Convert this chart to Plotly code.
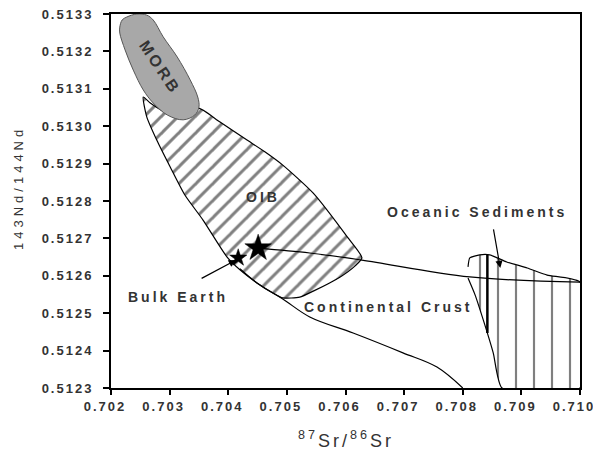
import plotly.graph_objects as go

# ---------------- data (data units) ----------------
x_ticks = [0.702, 0.703, 0.704, 0.705, 0.706, 0.707, 0.708, 0.709, 0.710]
x_tick_labels = ["0.702", "0.703", "0.704", "0.705", "0.706", "0.707", "0.708", "0.709", "0.710"]
y_ticks = [0.5123, 0.5124, 0.5125, 0.5126, 0.5127, 0.5128, 0.5129, 0.5130, 0.5131, 0.5132, 0.5133]
y_tick_labels = ["0.5123", "0.5124", "0.5125", "0.5126", "0.5127", "0.5128",
                 "0.5129", "0.5130", "0.5131", "0.5132", "0.5133"]

morb_sr = [0.70244, 0.70261, 0.70272, 0.70289, 0.70313, 0.70335, 0.70348, 0.70350, 0.70343,
           0.70323, 0.70296, 0.70272, 0.70255, 0.70238, 0.70224, 0.70215, 0.70215, 0.70219, 0.70227, 0.70244]
morb_nd = [0.513300, 0.513297, 0.513284, 0.513239, 0.513185, 0.513124, 0.513078, 0.513051, 0.513030,
           0.513017, 0.513030, 0.513062, 0.513097, 0.513150, 0.513204, 0.513249, 0.513265, 0.513284, 0.513292, 0.513300]

oib_sr = [0.70255, 0.70261, 0.70278, 0.70301, 0.70326, 0.70357, 0.70398, 0.70420, 0.70449, 0.70476,
          0.70493, 0.70522, 0.70545, 0.70591, 0.70616, 0.70628, 0.70603, 0.70545, 0.70493, 0.70463,
          0.70432, 0.70386, 0.70348, 0.70323, 0.70292, 0.70267, 0.70255]
oib_nd = [0.513078, 0.513025, 0.512963, 0.512891, 0.512816, 0.512749, 0.512650, 0.512616, 0.512581, 0.512554,
          0.512541, 0.512543, 0.512559, 0.512597, 0.512626, 0.512648, 0.512704, 0.512821, 0.512896, 0.512931,
          0.512963, 0.513011, 0.513049, 0.513022, 0.513038, 0.513062, 0.513078]

sed_sr = [0.70809, 0.70812, 0.70829, 0.70846, 0.70875, 0.70910, 0.70944, 0.71000, 0.71000, 0.70867,
          0.70852, 0.70835, 0.70821, 0.70809]
sed_nd = [0.512624, 0.512648, 0.512656, 0.512656, 0.512637, 0.512621, 0.512602, 0.512583, 0.512300, 0.512300,
          0.512394, 0.512482, 0.512549, 0.512594]

sed_bar_sr = [0.70842, 0.70842]
sed_bar_nd = [0.512656, 0.512447]

crust_upper_sr = [0.70451, 0.70539, 0.70628, 0.70812, 0.71000]
crust_upper_nd = [0.512674, 0.512661, 0.512642, 0.512597, 0.512583]
crust_lower_sr = [0.70420, 0.70449, 0.70493, 0.70539, 0.70613, 0.70698, 0.70756, 0.70800]
crust_lower_nd = [0.512619, 0.512581, 0.512538, 0.512490, 0.512447, 0.512394, 0.512356, 0.512300]

star_sr = [0.70451, 0.70417]
star_nd = [0.512674, 0.512648]

label_names = ["MORB", "OIB", "Oceanic Sediments", "Bulk Earth", "Continental Crust"]
label_sr = [0.70284, 0.70459, 0.70824, 0.70314, 0.70672]
label_nd = [0.513158, 0.512811, 0.512771, 0.512543, 0.512517]
label_angle = [56, 0, 0, 0, 0]

arrow_head_sr = [0.70413, 0.70864]
arrow_head_nd = [0.512642, 0.512621]
arrow_tail_sr = [0.70352, 0.70852]
arrow_tail_nd = [0.512591, 0.512728]

x_title = "<sup>87</sup>Sr/<sup>86</sup>Sr"
y_title = "143Nd/144Nd"


def spaced(t, px):
    return '<span style="letter-spacing:%spx">%s</span>' % (px, t)


FONT = "Liberation Sans, Arial, sans-serif"
TXT = "#333333"

fig = go.Figure()

fig.add_trace(go.Scatter(
    x=oib_sr, y=oib_nd, mode="lines", fill="toself",
    line=dict(color="black", width=1.2, shape="spline", smoothing=0.6),
    fillpattern=dict(shape="/", size=12, solidity=0.25, fgcolor="black", bgcolor="white"),
    hoverinfo="skip", showlegend=False))

fig.add_trace(go.Scatter(
    x=sed_sr, y=sed_nd, mode="lines", fill="toself",
    line=dict(color="black", width=1.2, shape="spline", smoothing=0.5),
    fillpattern=dict(shape="|", size=18, solidity=0.12, fgcolor="black", bgcolor="white"),
    hoverinfo="skip", showlegend=False))

fig.add_trace(go.Scatter(x=crust_upper_sr, y=crust_upper_nd, mode="lines",
                         line=dict(color="black", width=1.2, shape="spline"),
                         hoverinfo="skip", showlegend=False))
fig.add_trace(go.Scatter(x=crust_lower_sr, y=crust_lower_nd, mode="lines",
                         line=dict(color="black", width=1.2, shape="spline"),
                         hoverinfo="skip", showlegend=False))
fig.add_trace(go.Scatter(x=sed_bar_sr, y=sed_bar_nd, mode="lines",
                         line=dict(color="black", width=2.5),
                         hoverinfo="skip", showlegend=False))

fig.add_trace(go.Scatter(
    x=morb_sr, y=morb_nd, mode="lines", fill="toself", fillcolor="#a8a8a8",
    line=dict(color="#555555", width=1, shape="spline"),
    hoverinfo="skip", showlegend=False))

fig.add_trace(go.Scatter(x=star_sr, y=star_nd, mode="markers", opacity=1,
                         marker=dict(symbol="star", size=[20, 13], color="black", opacity=1,
                                     line=dict(color="black", width=0.5)),
                         hoverinfo="skip", showlegend=False))

for name, xs, ys, ang in zip(label_names, label_sr, label_nd, label_angle):
    fig.add_annotation(x=xs, y=ys, xref="x", yref="y", text=spaced(name, 3),
                       showarrow=False, textangle=ang,
                       font=dict(family=FONT, size=16 if name == "MORB" else 14,
                                 color=TXT, weight="bold"))

for hx, hy, tx, ty in zip(arrow_head_sr, arrow_head_nd, arrow_tail_sr, arrow_tail_nd):
    fig.add_annotation(x=hx, y=hy, ax=tx, ay=ty, xref="x", yref="y", axref="x", ayref="y",
                       text="", showarrow=True, arrowhead=2, arrowsize=1.2,
                       arrowwidth=1.2, arrowcolor="black")

fig.add_annotation(x=0.5, y=-0.139, xref="paper", yref="paper", text=spaced(x_title, 3),
                   showarrow=False, xanchor="center", yanchor="middle",
                   font=dict(family=FONT, size=18, color=TXT))
fig.add_annotation(x=-0.196, y=0.535, xref="paper", yref="paper", text=spaced(y_title, 4),
                   showarrow=False, textangle=-90, xanchor="center", yanchor="middle",
                   font=dict(family=FONT, size=13, color=TXT))

axis_common = dict(showgrid=False, zeroline=False, showline=True, linecolor="black",
                   linewidth=2, mirror=True, ticks="outside", tickcolor="black",
                   tickwidth=1.5, automargin=False, ticklabeloverflow="allow",
                   tickfont=dict(family=FONT, size=13, color=TXT, weight="bold"))

fig.update_xaxes(range=[0.702, 0.7100001], tickvals=x_ticks,
                 ticktext=[spaced(t, 2) for t in x_tick_labels],
                 ticklen=5, ticklabelshift=-6, **axis_common)
fig.update_yaxes(range=[0.5123, 0.51330001], tickvals=y_ticks,
                 ticktext=[spaced(t, 2) for t in y_tick_labels],
                 ticklen=6, ticklabelstandoff=7, **axis_common)

# the page body has an 8px margin, so the figure is 8px smaller than the window
fig.update_layout(width=593, height=443, margin=dict(l=103, r=21, t=6, b=63),
                  plot_bgcolor="white", paper_bgcolor="white", showlegend=False)

fig.write_html("out.html")
